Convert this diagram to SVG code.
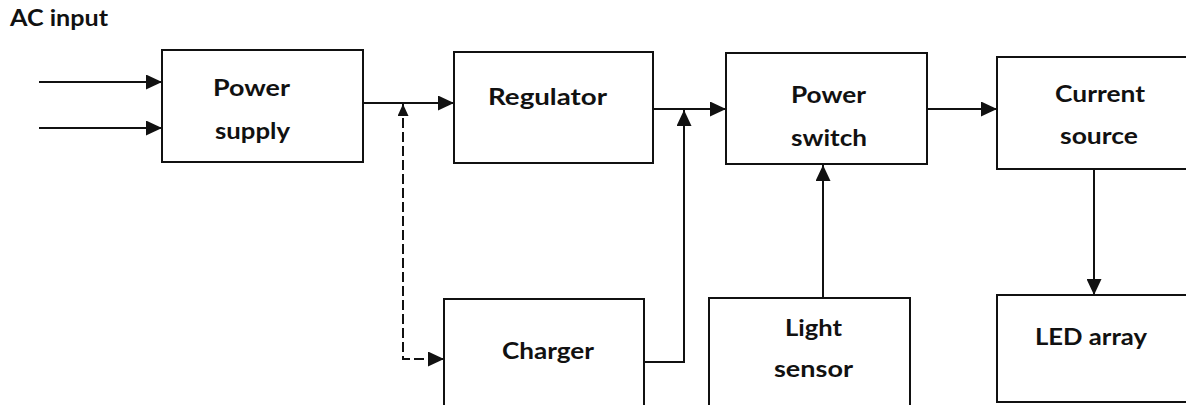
<svg xmlns="http://www.w3.org/2000/svg" width="1186" height="405" viewBox="0 0 1186 405">
  <style>
    .box { fill: #ffffff; stroke: #111111; stroke-width: 2; }
    .lbl { font-family: Lato, "Open Sans", "Liberation Sans", sans-serif; font-weight: bold; font-size: 22px; fill: #111111; }
    .wire { fill: none; stroke: #111111; stroke-width: 2; }
    .dash { stroke-dasharray: 10 4; }
  </style>
  <defs>
    <marker id="arr" markerUnits="userSpaceOnUse" markerWidth="17" markerHeight="15" refX="16" refY="7.5" orient="auto-start-reverse">
      <path d="M0,0 L16,7.5 L0,15 z" fill="#111111"/>
    </marker>
    <marker id="arrs" markerUnits="userSpaceOnUse" markerWidth="12" markerHeight="12" refX="12" refY="5.5" orient="auto-start-reverse">
      <path d="M0,0 L12,5.5 L0,11 z" fill="#111111"/>
    </marker>
  </defs>
  <rect width="1186" height="405" fill="#ffffff"/>

  <text class="lbl" x="10" y="26" textLength="98" lengthAdjust="spacingAndGlyphs">AC input</text>

  <g id="connectors">
    <line class="wire" x1="39" y1="82" x2="162" y2="82" marker-end="url(#arr)"/>
    <line class="wire" x1="39" y1="128" x2="162" y2="128" marker-end="url(#arr)"/>
    <line class="wire" x1="363" y1="103" x2="454" y2="103" marker-end="url(#arr)"/>
    <path class="wire dash" d="M403,104 L403,359 L444,359" marker-start="url(#arrs)" marker-end="url(#arr)"/>
    <line class="wire" x1="653" y1="109" x2="726" y2="109" marker-end="url(#arr)"/>
    <path class="wire" d="M644,362 L684,362 L684,110" marker-end="url(#arr)"/>
    <line class="wire" x1="927" y1="109" x2="997" y2="109" marker-end="url(#arr)"/>
    <line class="wire" x1="823" y1="298" x2="823" y2="165" marker-end="url(#arr)"/>
    <line class="wire" x1="1094" y1="169" x2="1094" y2="295" marker-end="url(#arr)"/>
  </g>

  <g id="power-supply">
    <rect class="box" x="162" y="50" width="201" height="112"/>
    <text class="lbl" x="213" y="96" textLength="77" lengthAdjust="spacingAndGlyphs">Power</text>
    <text class="lbl" x="215" y="139" textLength="75" lengthAdjust="spacingAndGlyphs">supply</text>
  </g>

  <g id="regulator">
    <rect class="box" x="454" y="52" width="199" height="111"/>
    <text class="lbl" x="488" y="105" textLength="119" lengthAdjust="spacingAndGlyphs">Regulator</text>
  </g>

  <g id="power-switch">
    <rect class="box" x="726" y="53" width="201" height="111"/>
    <text class="lbl" x="791" y="103" textLength="75" lengthAdjust="spacingAndGlyphs">Power</text>
    <text class="lbl" x="791" y="146" textLength="76" lengthAdjust="spacingAndGlyphs">switch</text>
  </g>

  <g id="current-source">
    <rect class="box" x="997" y="57" width="200" height="112"/>
    <text class="lbl" x="1055" y="102" textLength="90" lengthAdjust="spacingAndGlyphs">Current</text>
    <text class="lbl" x="1060" y="144" textLength="78" lengthAdjust="spacingAndGlyphs">source</text>
  </g>

  <g id="charger">
    <rect class="box" x="444" y="299" width="200" height="120"/>
    <text class="lbl" x="502" y="359" textLength="92" lengthAdjust="spacingAndGlyphs">Charger</text>
  </g>

  <g id="light-sensor">
    <rect class="box" x="709" y="298" width="201" height="120"/>
    <text class="lbl" x="785" y="336" textLength="57" lengthAdjust="spacingAndGlyphs">Light</text>
    <text class="lbl" x="774" y="377" textLength="79" lengthAdjust="spacingAndGlyphs">sensor</text>
  </g>

  <g id="led-array">
    <rect class="box" x="997" y="295" width="200" height="107"/>
    <text class="lbl" x="1035" y="345" textLength="112" lengthAdjust="spacingAndGlyphs">LED array</text>
  </g>
</svg>
